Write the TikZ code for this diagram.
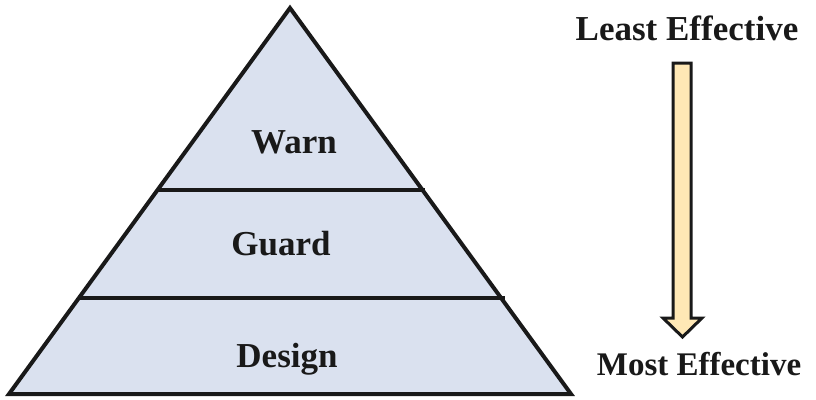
\documentclass[tikz,border=0pt]{standalone}
\usepackage{fontspec}
\setmainfont{Liberation Serif}
\begin{document}
\begin{tikzpicture}[x=1pt,y=-1pt,
  layerfill/.style={fill=pyrblue},
  outline/.style={draw=black!90,line width=4pt,line join=miter},
  divider/.style={draw=black!90,line width=3.2pt},
  label/.style={font=\fontsize{35}{40}\selectfont\bfseries,text=black!90,inner sep=0pt,anchor=base},
  arrowbody/.style={draw=black!90,line width=3pt,fill=arrowfill,line join=miter}]
\definecolor{pyrblue}{HTML}{DAE1EF}
\definecolor{arrowfill}{HTML}{FFE8B5}
\useasboundingbox (0,0) rectangle (816,399);
% pyramid
\coordinate (apex) at (290,8);
\coordinate (bl) at (9,394);
\coordinate (br) at (571,394);
\draw[outline,layerfill] (apex) -- (br) -- (bl) -- cycle;
% layer dividers
\coordinate (d1l) at (157,190);
\coordinate (d1r) at (425,190);
\coordinate (d2l) at (78,298);
\coordinate (d2r) at (505,298);
\draw[divider] (d1l) -- (d1r);
\draw[divider] (d2l) -- (d2r);
% layer labels
\node[label] (warn) at (294,153) {Warn};
\node[label] (guard) at (281,255) {Guard};
\node[label] (design) at (287,367) {Design};
% effectiveness scale
\node[label] (least) at (687,40) {Least Effective};
\node[label,font=\fontsize{33}{38}\selectfont\bfseries] (most) at (699,375) {Most Effective};
\draw[arrowbody] (673,63) -- (691,63) -- (691,318) -- (702,318) -- (682.5,337)
  -- (663,318) -- (673,318) -- cycle;
\end{tikzpicture}
\end{document}
